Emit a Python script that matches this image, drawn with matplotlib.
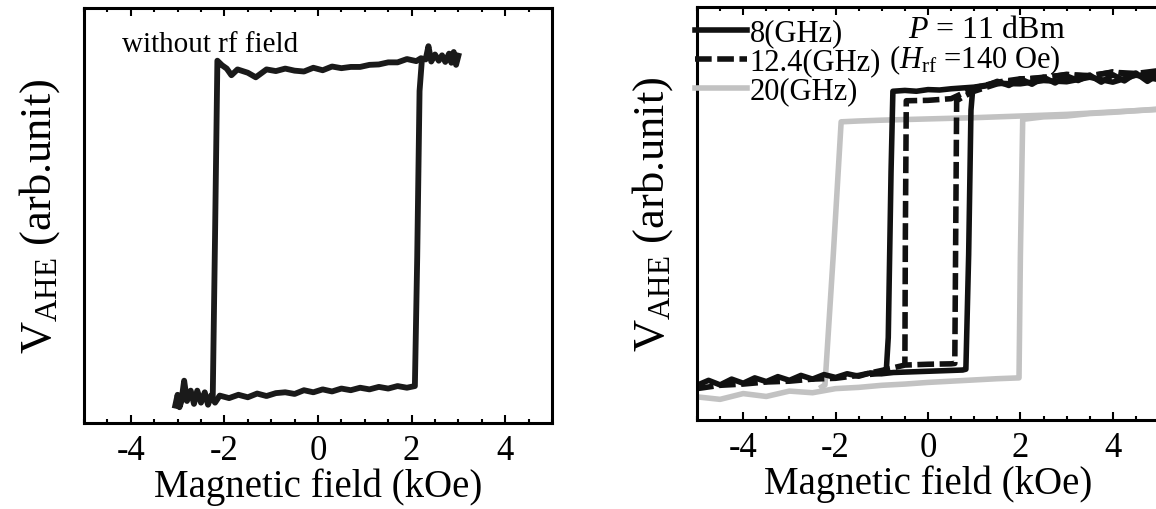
import matplotlib
matplotlib.use("Agg")
import matplotlib.pyplot as plt
from matplotlib.ticker import MultipleLocator

plt.rcParams['font.family'] = ['Liberation Serif', 'DejaVu Serif']
plt.rcParams['mathtext.fontset'] = 'custom'
plt.rcParams['mathtext.rm'] = 'Liberation Serif'
plt.rcParams['mathtext.it'] = 'Liberation Serif:italic'
plt.rcParams['axes.unicode_minus'] = False

# ---- without rf field (kOe, arb. unit) ----
bare_low_x = [-3.05, -3.0, -2.96, -2.92, -2.86, -2.8, -2.72, -2.65, -2.58, -2.5, -2.42, -2.35,
              -2.28, -2.2, -2.1, -1.9, -1.7, -1.5, -1.3, -1.1, -0.9, -0.7, -0.5, -0.3,
              -0.1, 0.1, 0.3, 0.5, 0.7, 0.9, 1.1, 1.3, 1.5, 1.7, 1.9, 2.07, 2.12, 2.17, 2.22]
bare_low_y = [4.2, 6.8, 3.8, 5.2, 10.2, 5.3, 7.8, 4.6, 7.8, 4.9, 7.4, 4.4,
              6.7, 4.9, 6.6, 6.0, 6.8, 6.2, 7.1, 6.5, 7.2, 7.4, 7.0, 7.9,
              7.4, 8.1, 7.6, 8.3, 7.9, 8.5, 8.1, 8.7, 8.3, 8.9, 8.5, 8.9, 40.0, 80.0, 87.5]
bare_up_x = [3.0, 2.95, 2.9, 2.85, 2.8, 2.72, 2.65, 2.58, 2.5, 2.42, 2.36, 2.3, 2.2, 2.1,
             1.9, 1.7, 1.5, 1.3, 1.1, 0.9, 0.7, 0.5, 0.3, 0.1, -0.1, -0.3, -0.5, -0.7,
             -0.9, -1.1, -1.33, -1.5, -1.72, -1.85, -1.95, -2.05, -2.15, -2.2, -2.25]
bare_up_y = [88.5, 86.3, 89.4, 86.8, 89.0, 87.0, 88.6, 87.3, 88.8, 87.1, 90.8, 87.6, 87.9, 87.2,
             87.7, 86.9, 86.9, 86.4, 86.3, 85.8, 85.8, 85.5, 85.9, 85.0, 85.6, 84.7, 84.9, 85.4,
             84.8, 85.2, 83.3, 84.4, 85.2, 83.8, 85.4, 86.2, 87.3, 45.0, 5.5]

# ---- with rf field, P = 11 dBm ----
f8_x = [-5.0, -4.75, -4.5, -4.25, -4.0, -3.75, -3.5, -3.25, -3.0, -2.75, -2.5, -2.25,
        -2.0, -1.75, -1.5, -1.25, -1.0, -0.75, -0.5, -0.25, 0.0, 0.25, 0.5, 0.75, 0.82,
        0.88, 0.93, 0.97, 1.25, 1.5, 1.75, 2.0, 2.25, 2.5, 2.75, 3.0, 3.25, 3.5, 3.75,
        4.0, 4.25, 4.5, 4.75, 5.0]
f8_y = [8.4, 9.6, 8.5, 9.9, 8.9, 10.2, 9.3, 10.5, 9.6, 10.8, 9.9, 11.0,
        10.3, 11.2, 10.6, 11.4, 11.2, 11.5, 11.6, 11.7, 11.8, 11.9, 12.0, 12.1, 12.3,
        40.0, 75.0, 80.4, 80.9, 82.0, 81.0, 82.6, 81.3, 83.0, 81.6, 83.3, 82.2, 83.5, 81.8,
        83.6, 82.1, 84.0, 82.0, 83.8]
f8_ret_x = [5.0, 4.5, 4.0, 3.5, 3.0, 2.5, 2.0, 1.5, 1.0, 0.75, 0.5, 0.25, 0.0, -0.25,
            -0.5, -0.76, -0.8, -0.86, -0.9, -1.0, -1.2]
f8_ret_y = [82.4, 83.5, 81.8, 83.0, 81.9, 82.2, 81.4, 81.5, 80.6, 80.4, 80.2, 79.9, 80.0, 79.6,
            79.8, 79.6, 60.0, 20.0, 12.5, 11.3, 11.1]

f12_x = [-5.0, -4.5, -4.0, -3.5, -3.0, -2.5, -2.0, -1.5, -1.0, -0.5, 0.0, 0.5, 0.58,
         0.6, 0.62, 0.8, 1.0, 1.5, 2.0, 2.5, 3.0, 3.5, 4.0, 4.5, 5.0]
f12_y = [7.6, 8.4, 8.7, 9.2, 9.4, 9.9, 10.1, 10.8, 12.0, 13.3, 13.5, 13.6, 13.7,
         45.0, 77.3, 78.5, 79.6, 81.4, 82.4, 83.0, 83.6, 83.4, 84.2, 83.9, 84.6]
f12_ret_x = [5.0, 4.5, 4.0, 3.5, 3.0, 2.5, 2.0, 1.5, 1.0, 0.5, 0.0, -0.47, -0.49, -0.5]
f12_ret_y = [84.0, 83.4, 84.3, 83.2, 83.7, 82.8, 82.6, 81.8, 80.4, 77.8, 77.4, 77.3, 45.0, 13.8]

f20_x = [-5.0, -4.5, -4.0, -3.5, -3.0, -2.5, -2.0, -1.5, -1.0, -0.5, 0.0, 0.5, 1.0,
         1.5, 1.97, 2.0, 2.05, 2.5, 3.0, 3.5, 4.0, 4.5, 5.0]
f20_y = [5.6, 5.0, 6.4, 5.7, 7.0, 6.6, 7.6, 7.9, 8.4, 8.7, 9.1, 9.4, 9.7,
         10.0, 10.2, 40.0, 72.8, 73.4, 73.6, 74.2, 74.5, 74.9, 75.3]
f20_ret_x = [5.0, 4.0, 3.0, 2.0, 1.0, 0.0, -1.0, -1.5, -1.88, -2.05, -2.23, -2.3]
f20_ret_y = [75.2, 74.6, 74.0, 73.6, 73.2, 72.9, 72.6, 72.4, 72.2, 40.0, 8.5, 8.0]

tick_vals = [-4, -2, 0, 2, 4]
ylabel = r'$\mathregular{V_{AHE}}$ (arb.unit)'
xlabel = 'Magnetic field (kOe)'

fig = plt.figure(figsize=(11.56, 5.10), dpi=100)
ax1 = fig.add_axes([84 / 1156, 86 / 510, 468 / 1156, 415 / 510])
ax2 = fig.add_axes([697 / 1156, 89 / 510, 462 / 1156, 413 / 510])


def style(ax):
    ax.set_xlim(-5, 5)
    ax.set_ylim(0, 100)
    ax.set_xticks(tick_vals)
    ax.xaxis.set_minor_locator(MultipleLocator(0.5))
    ax.set_yticks([])
    ax.tick_params(axis='x', which='both', direction='in', top=True, bottom=True,
                   labelsize=25, pad=8, width=1.5)
    ax.tick_params(axis='x', which='major', length=5.5)
    ax.tick_params(axis='x', which='minor', length=3)
    for s in ax.spines.values():
        s.set_linewidth(2.2)
    ax.set_xlabel(xlabel, fontsize=28, labelpad=0)
    ax.set_ylabel(ylabel, fontsize=32, labelpad=16)


style(ax1)
ax1.plot(bare_low_x, bare_low_y, color='#1a1a1a', lw=4.2, solid_joinstyle='round')
ax1.plot(bare_up_x, bare_up_y, color='#1a1a1a', lw=4.2, solid_joinstyle='round')
ax1.text(-4.19, 89.6, 'without rf field', fontsize=21)

style(ax2)
ax2.plot(f8_x, f8_y, color='#111111', lw=4, label='8(GHz)')
ax2.plot(f8_ret_x, f8_ret_y, color='#111111', lw=4)
ax2.plot(f12_x, f12_y, color='#111111', lw=4, dashes=(3, 1), label='12.4(GHz)')
ax2.plot(f12_ret_x, f12_ret_y, color='#111111', lw=4, dashes=(3, 1))
ax2.plot(f20_x, f20_y, color='#c2c2c2', lw=4, label='20(GHz)', zorder=1.5)
ax2.plot(f20_ret_x, f20_ret_y, color='#c2c2c2', lw=4, zorder=1.5)
ax2.text(-0.43, 94.5, r'$P$ = 11 dBm', fontsize=23, va='center')
ax2.text(-0.85, 87.3, r'($H_{\mathrm{rf}}$ =140 Oe)', fontsize=22, va='center')
ax2.legend(loc='upper left', bbox_to_anchor=(-0.005, 0.972), frameon=False, fontsize=22,
           borderpad=0, handlelength=1.7, handletextpad=0.1, labelspacing=0.0,
           borderaxespad=0)

fig.savefig('out.png', dpi=100)
